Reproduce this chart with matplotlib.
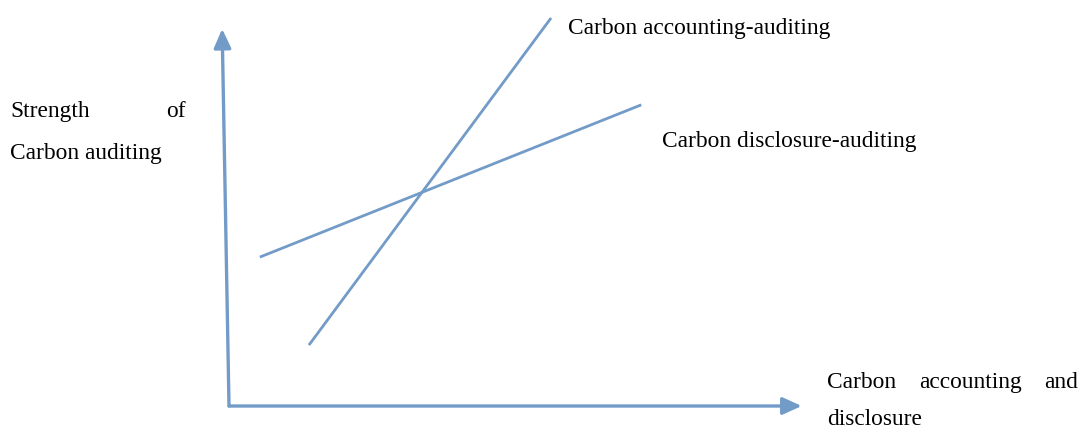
import matplotlib
matplotlib.use("Agg")
import matplotlib.pyplot as plt

# conceptual diagram values (axis units 0..10)
acc_x = [1.40, 5.64]
acc_y = [1.62, 10.32]
dis_x = [0.54, 7.22]
dis_y = [3.96, 8.01]

line_color = "#739bc8"
W, H = 1081, 430

plt.rcParams['font.family'] = ['Liberation Serif', 'DejaVu Serif']

fig = plt.figure(figsize=(W / 100, H / 100), dpi=100)
ax = fig.add_axes([229 / W, 1 - 406 / H, 571 / W, 376 / H])
ax.set_xlim(0, 10)
ax.set_ylim(0, 10)
ax.axis('off')

# axes arrows
arrow = dict(arrowstyle='-|>,head_length=1.15,head_width=0.52', color=line_color, lw=2.4,
             shrinkA=0, shrinkB=0)
ax.annotate('', xy=(10.03, 0), xytext=(0, 0), arrowprops=arrow, annotation_clip=False)
ax.annotate('', xy=(-0.12, 10.03), xytext=(0, 0), arrowprops=arrow, annotation_clip=False)

ax.plot(acc_x, acc_y, color=line_color, lw=2.0, clip_on=False, solid_capstyle='butt')
ax.plot(dis_x, dis_y, color=line_color, lw=2.0, clip_on=False, solid_capstyle='butt')


def px(x, y):
    return x / W, 1 - y / H


fs = 16.8
kw = dict(fontsize=fs, va='baseline')
fig.text(*px(568, 34), 'Carbon accounting-auditing', ha='left', **kw)
fig.text(*px(662, 147), 'Carbon disclosure-auditing', ha='left', **kw)
fig.text(*px(10, 117), 'Strength', ha='left', **kw)
fig.text(*px(186, 117), 'of', ha='right', **kw)
fig.text(*px(10, 159), 'Carbon auditing', ha='left', **kw)
fig.text(*px(827, 388), 'Carbon', ha='left', **kw)
fig.text(*px(970, 388), 'accounting', ha='center', **kw)
fig.text(*px(1078, 388), 'and', ha='right', **kw)
fig.text(*px(827, 425), 'disclosure', ha='left', **kw)

fig.savefig('out.png', dpi=100)
